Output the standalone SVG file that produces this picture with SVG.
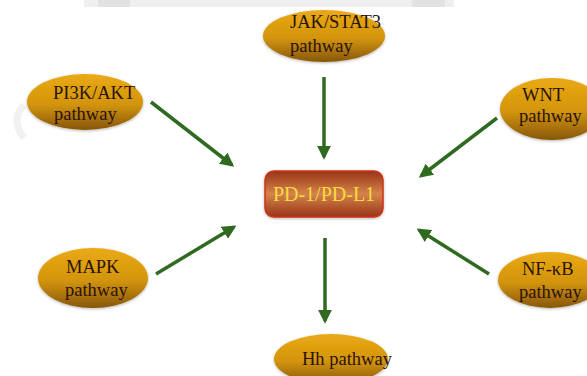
<svg xmlns="http://www.w3.org/2000/svg" width="587" height="376" viewBox="0 0 587 376">
<defs>
<linearGradient id="gold" x1="0" y1="0" x2="0" y2="1">
<stop offset="0" stop-color="#EAAA14"/>
<stop offset="0.55" stop-color="#D2940C"/>
<stop offset="1" stop-color="#875606"/>
</linearGradient>
<linearGradient id="box" x1="0" y1="0" x2="0" y2="1">
<stop offset="0" stop-color="#983418"/>
<stop offset="0.5" stop-color="#D4844A"/>
<stop offset="1" stop-color="#983418"/>
</linearGradient>
<marker id="ah" viewBox="0 0 10 10" refX="8" refY="5" markerWidth="4" markerHeight="4" orient="auto" markerUnits="strokeWidth">
<path d="M0,0 L10,5 L0,10 z" fill="#2F6A20"/>
</marker>
<filter id="sh" x="-20%" y="-20%" width="140%" height="140%">
<feGaussianBlur in="SourceAlpha" stdDeviation="1.5"/>
<feOffset dx="0" dy="1"/>
<feComponentTransfer><feFuncA type="linear" slope="0.3"/></feComponentTransfer>
<feMerge><feMergeNode/><feMergeNode in="SourceGraphic"/></feMerge>
</filter>
</defs>
<style>
.ell{fill:url(#gold);filter:url(#sh)}
.t{font-family:"Liberation Serif","Times New Roman",serif;font-size:18.5px;fill:#2A1206}
.c{stroke:#2F6A20;stroke-width:3.5;fill:none;marker-end:url(#ah)}
</style>
<rect x="84" y="0" width="370" height="7" fill="#EFEFEF"/>
<rect x="98" y="0" width="32" height="7" fill="#E2E2E2"/>
<rect x="412" y="0" width="33" height="7" fill="#E2E2E2"/>
<path d="M24,105 Q10,120 24,138" stroke="#F1F1F1" stroke-width="7" fill="none"/>
<g id="connectors">
<line class="c" x1="151" y1="102" x2="232" y2="165"/>
<line class="c" x1="324" y1="77" x2="324" y2="157"/>
<line class="c" x1="497" y1="118" x2="421" y2="176"/>
<line class="c" x1="156" y1="274" x2="234" y2="227"/>
<line class="c" x1="489" y1="274" x2="419" y2="230"/>
<line class="c" x1="325" y1="238" x2="325" y2="321"/>
</g>
<g id="jak">
<ellipse class="ell" cx="324" cy="36" rx="61" ry="26"/>
<text class="t" x="290" y="28">JAK/STAT3</text>
<text class="t" x="290" y="52">pathway</text>
</g>
<g id="pi3k">
<ellipse class="ell" cx="85" cy="102" rx="58" ry="28"/>
<text class="t" x="53" y="99">PI3K/AKT</text>
<text class="t" x="54" y="120">pathway</text>
</g>
<g id="wnt">
<ellipse class="ell" cx="552" cy="109" rx="52" ry="31"/>
<text class="t" x="522" y="101">WNT</text>
<text class="t" x="519" y="122">pathway</text>
</g>
<g id="pd">
<rect x="265" y="171" width="118" height="46" rx="9" fill="url(#box)" stroke="#D0301A" stroke-width="1.5" filter="url(#sh)"/>
<text x="324" y="201" text-anchor="middle" font-family="Liberation Serif, Times New Roman, serif" font-size="20" fill="#F6DA40">PD-1/PD-L1</text>
</g>
<g id="mapk">
<ellipse class="ell" cx="93" cy="278" rx="55" ry="30"/>
<text class="t" x="66" y="273">MAPK</text>
<text class="t" x="65" y="296">pathway</text>
</g>
<g id="nfkb">
<ellipse class="ell" cx="550" cy="280" rx="52" ry="28"/>
<text class="t" x="522" y="275">NF-κB</text>
<text class="t" x="519" y="298">pathway</text>
</g>
<g id="hh">
<ellipse class="ell" cx="331" cy="359" rx="57" ry="25"/>
<text class="t" x="302" y="365">Hh pathway</text>
</g>
</svg>
